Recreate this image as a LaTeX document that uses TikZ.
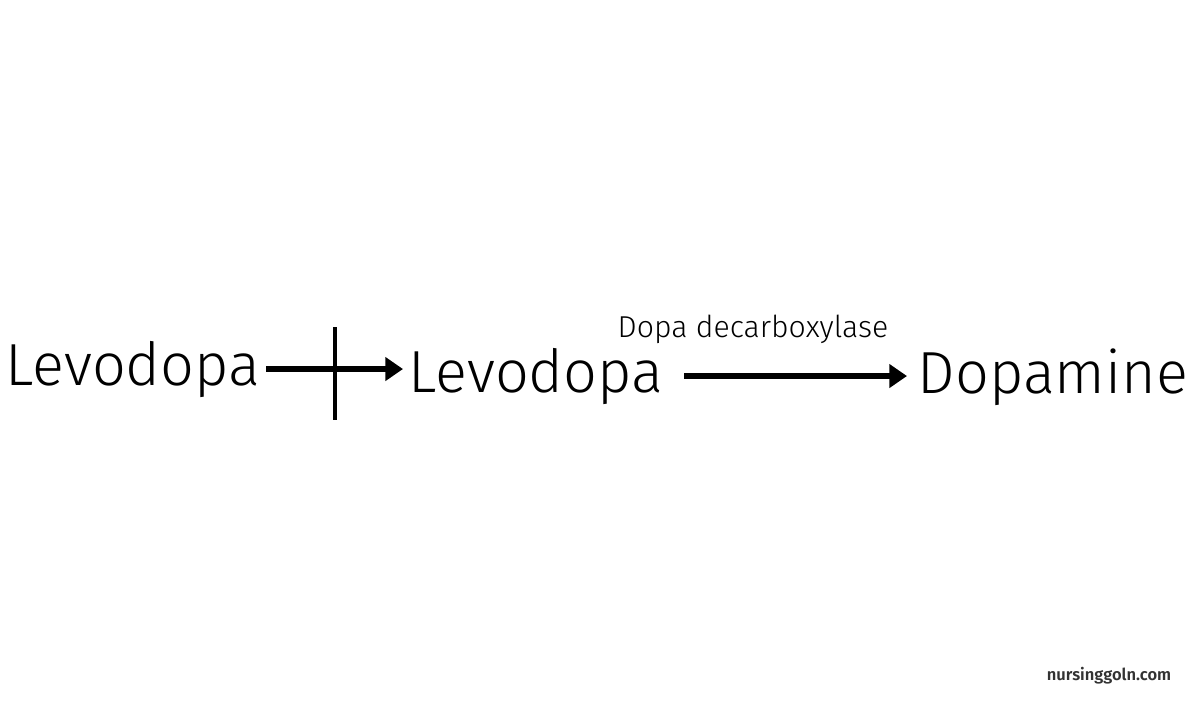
\documentclass[tikz,border=0pt]{standalone}
\usepackage{fontspec}
\setmainfont{Fira Sans}[UprightFont=* Light, BoldFont=* SemiBold]
\usetikzlibrary{arrows.meta}
\begin{document}
\begin{tikzpicture}[
    drug/.style={inner sep=0pt, anchor=base west, font=\fontsize{16.9pt}{20pt}\selectfont},
    arr/.style={line width=1.5pt, -{Triangle[length=5pt,width=6.5pt]}}
  ]
                    \useasboundingbox (0,0) rectangle (12,7);
                    \node [drug] (lev1) at (0.05,3.15) {Levodopa};
                    \node [drug] (lev2) at (4.08,3.08) {Levodopa};
                    \node [drug] (dop) at (9.17,3.07) {Dopamine};
                    \node [inner sep=0pt, anchor=base, font=\fontsize{8.6pt}{10pt}\selectfont] (enz) at (7.53,3.63) {Dopa decarboxylase};
                    \draw [arr] ([xshift=0.5mm]lev1.east) -- ([xshift=-0.5mm]lev1.east -| lev2.west);
                    \coordinate (blk) at (3.35,3.27);
                    \draw [line width=1.2pt] ([yshift=4.6mm]blk) -- ([yshift=-4.7mm]blk);
                    \draw [arr, line width=1.7pt] ([xshift=2mm]lev2.east) -- ([xshift=-1mm]lev2.east -| dop.west);
                    \node [font=\fontsize{4.7pt}{5pt}\selectfont\bfseries, text=black!80] (site) at (11.09,0.24) {nursinggoln.com};
                \end{tikzpicture}
\end{document}
